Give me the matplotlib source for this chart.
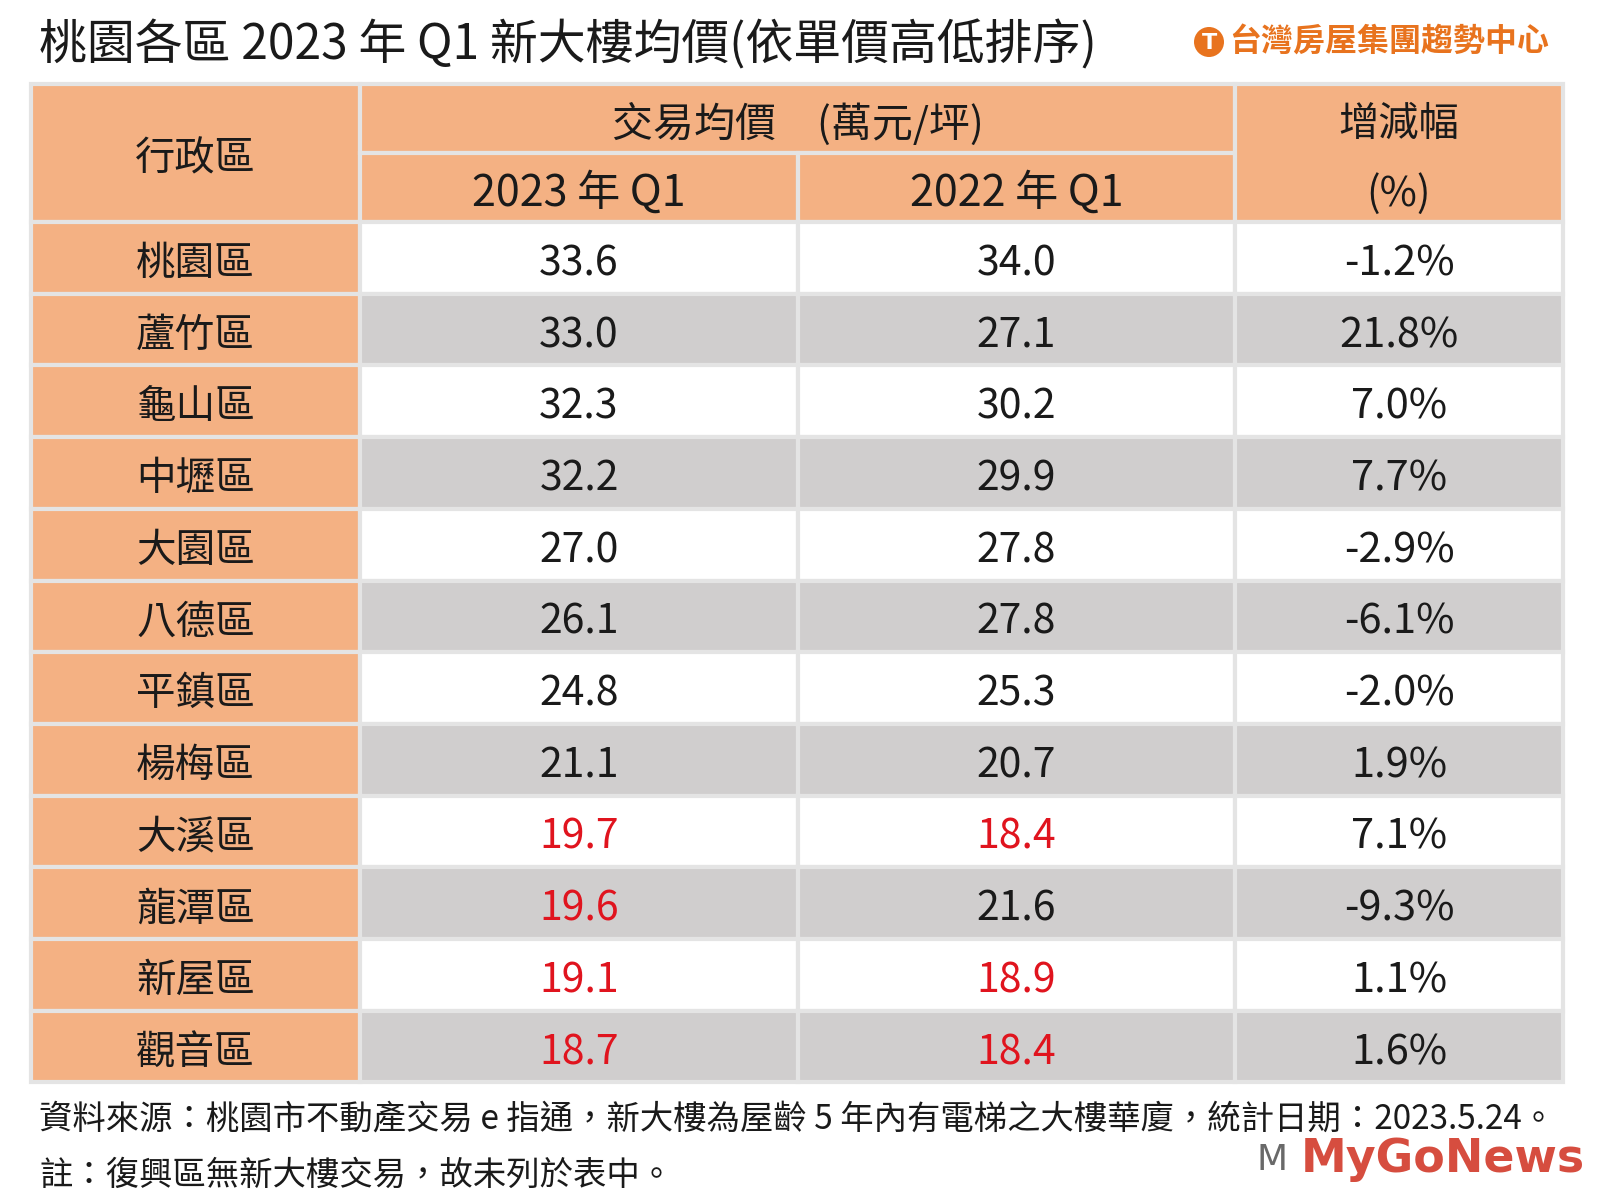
import matplotlib.pyplot as plt
from matplotlib.patches import Rectangle, Circle

plt.rcParams['font.family'] = ['Noto Sans CJK TC', 'DejaVu Sans']

# 資料
districts = ['桃園區', '蘆竹區', '龜山區', '中壢區', '大園區', '八德區',
             '平鎮區', '楊梅區', '大溪區', '龍潭區', '新屋區', '觀音區']
price_2023 = [33.6, 33.0, 32.3, 32.2, 27.0, 26.1, 24.8, 21.1, 19.7, 19.6, 19.1, 18.7]
price_2022 = [34.0, 27.1, 30.2, 29.9, 27.8, 27.8, 25.3, 20.7, 18.4, 21.6, 18.9, 18.4]
change_pct = [-1.2, 21.8, 7.0, 7.7, -2.9, -6.1, -2.0, 1.9, 7.1, -9.3, 1.1, 1.6]

title = '桃園各區 2023 年 Q1 新大樓均價(依單價高低排序)'
col_heads = ['行政區', '交易均價　(萬元/坪)', '2023 年 Q1', '2022 年 Q1', '增減幅', '(%)']
notes = ['資料來源：桃園市不動產交易 e 指通，新大樓為屋齡 5 年內有電梯之大樓華廈，統計日期：2023.5.24。',
         '註：復興區無新大樓交易，故未列於表中。']

# 版面 (像素)
orange = '#F4B183'
gray = '#D0CECE'
red = '#E0141E'
line = '#E4E4E4'
ink = '#1a1a1a'
xs = [31, 360, 798, 1235, 1563]
y_top, y_mid, y_head = 84, 153, 222
row_h = 71.7
dy = 6  # 文字略往下

fig = plt.figure(figsize=(16, 12), dpi=100)
ax = fig.add_axes([0, 0, 1, 1])
ax.set_xlim(0, 1600)
ax.set_ylim(1200, 0)
ax.axis('off')


def cell(x0, x1, y0, y1, color):
    ax.add_patch(Rectangle((x0, y0), x1 - x0, y1 - y0, facecolor=color,
                           edgecolor=line, linewidth=3))


# 標題
ax.text(39, 45, title, fontsize=34.5, va='center', ha='left', color=ink,
        fontweight='medium')

# 右上角標誌
ax.add_patch(Circle((1209, 42), 15, facecolor='#E8731E', edgecolor='none'))
ax.text(1209, 43, 'T', fontsize=16, color='white', fontweight='bold',
        ha='center', va='center', family='DejaVu Sans')
ax.text(1229, 42, '台灣房屋集團趨勢中心', fontsize=23, color='#E8731E',
        fontweight='heavy', va='center', ha='left')

# 表頭
cell(xs[0], xs[1], y_top, y_head, orange)
cell(xs[1], xs[3], y_top, y_mid, orange)
cell(xs[1], xs[2], y_mid, y_head, orange)
cell(xs[2], xs[3], y_mid, y_head, orange)
cell(xs[3], xs[4], y_top, y_head, orange)

ax.text((xs[0] + xs[1]) / 2, (y_top + y_head) / 2 + dy, col_heads[0], fontsize=29,
        ha='center', va='center', color=ink)
ax.text((xs[1] + xs[3]) / 2, (y_top + y_mid) / 2 + dy, col_heads[1], fontsize=29.5,
        ha='center', va='center', color=ink)
ax.text((xs[1] + xs[2]) / 2, (y_mid + y_head) / 2 + dy, col_heads[2], fontsize=31,
        ha='center', va='center', color=ink)
ax.text((xs[2] + xs[3]) / 2, (y_mid + y_head) / 2 + dy, col_heads[3], fontsize=31,
        ha='center', va='center', color=ink)
ax.text((xs[3] + xs[4]) / 2, (y_top + y_mid) / 2 + dy, col_heads[4], fontsize=29,
        ha='center', va='center', color=ink)
ax.text((xs[3] + xs[4]) / 2, (y_mid + y_head) / 2 + dy, col_heads[5], fontsize=29,
        ha='center', va='center', color=ink)

# 資料列
for i, name in enumerate(districts):
    y0 = y_head + i * row_h
    y1 = y0 + row_h
    yc = (y0 + y1) / 2 + dy
    bg = 'white' if i % 2 == 0 else gray
    cell(xs[0], xs[1], y0, y1, orange)
    for j in range(1, 4):
        cell(xs[j], xs[j + 1], y0, y1, bg)
    ax.text((xs[0] + xs[1]) / 2, yc, name, fontsize=28.5, ha='center', va='center',
            color=ink)
    v1, v2 = price_2023[i], price_2022[i]
    ax.text((xs[1] + xs[2]) / 2, yc, f'{v1:.1f}', fontsize=29.5, ha='center',
            va='center', color=red if v1 < 20 else ink)
    ax.text((xs[2] + xs[3]) / 2, yc, f'{v2:.1f}', fontsize=29.5, ha='center',
            va='center', color=red if v2 < 20 else ink)
    ax.text((xs[3] + xs[4]) / 2, yc, f'{change_pct[i]:.1f}%', fontsize=30,
            ha='center', va='center', color=ink)

# 註解
ax.text(39, 1119, notes[0], fontsize=24, ha='left', va='center', color=ink)
ax.text(39, 1175, notes[1], fontsize=24, ha='left', va='center', color=ink)

# 浮水印
ax.text(1585, 1160, 'MyGoNews', fontsize=33, color='#D23A2A', fontweight='bold',
        ha='right', va='center', family='DejaVu Sans', alpha=0.9)
ax.text(1272, 1160, 'M', fontsize=26, color='#444444', ha='center', va='center',
        family='DejaVu Sans', alpha=0.8)

fig.savefig('out.png', dpi=100, facecolor='white')
